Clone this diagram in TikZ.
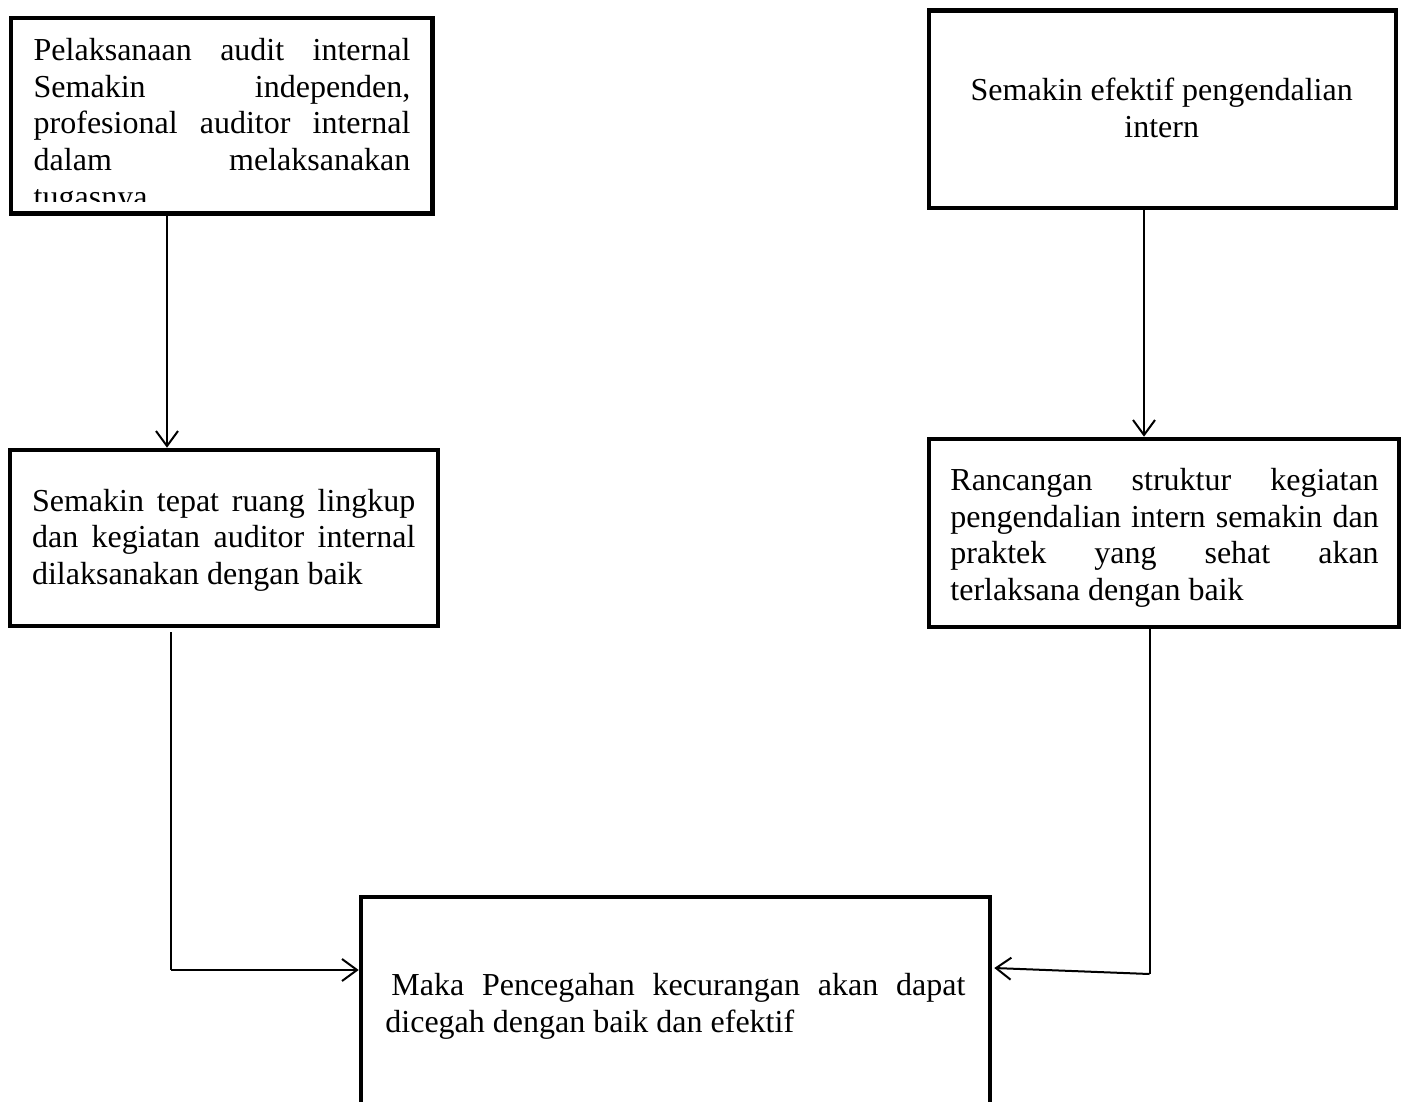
\documentclass[tikz,border=0pt]{standalone}
\usepackage{fontspec}
\setmainfont{Liberation Serif}
\usetikzlibrary{arrows.meta,fit}
\begin{document}
\begin{tikzpicture}[x=0.5pt,y=-0.5pt,
  box/.style={draw=black, line width=2.3pt, inner sep=0pt, rectangle},
  arr/.style={draw=black, line width=1pt, -{Straight Barb[length=7.5pt,width=11pt]}},
  conn/.style={draw=black, line width=1pt},
  txt/.style={inner sep=0pt, anchor=north west, align=left, font=\fontsize{16}{18.35}\selectfont},
  ctxt/.style={inner sep=0pt, anchor=north, align=center, font=\fontsize{16}{18.35}\selectfont},
]
\useasboundingbox (0,0) rectangle (1407,1102);
\fill[white] (0,0) rectangle (1407,1102);
\clip (0,0) rectangle (1407,1102);

% boxes
\node[box, fit={(10.8,18) (432.5,213.5)}] (A) {};
\node[box, fit={(929,10.3) (1396,208)}] (B) {};
\node[box, fit={(10,450) (438,626)}] (C) {};
\node[box, fit={(929,439) (1399,627)}] (D) {};
\node[box, fit={(361,897) (990,1130)}] (E) {};

% texts
\begin{scope}
\clip (14,21) rectangle (429,201.7);
\node[txt] (tA) at (33.3,34.3) {\noindent\strut\makebox[188.35pt][s]{Pelaksanaan audit internal}\\
\makebox[188.35pt][s]{Semakin independen,}\\
\makebox[188.35pt][s]{profesional auditor internal}\\
\makebox[188.35pt][s]{dalam melaksanakan}\\
tugasnya};
\end{scope}

\node[ctxt] (tB) at (1161.7,74.3) {\strut Semakin efektif pengendalian\\intern};

\node[txt] (tC) at (31.7,485) {\noindent\strut\makebox[191.65pt][s]{Semakin tepat ruang lingkup}\\
\makebox[191.65pt][s]{dan kegiatan auditor internal}\\
dilaksanakan dengan baik};

\node[txt] (tD) at (950,464.3) {\noindent\strut\makebox[214.15pt][s]{Rancangan struktur kegiatan}\\
\makebox[214.15pt][s]{pengendalian intern semakin dan}\\
\makebox[214.15pt][s]{praktek yang sehat akan}\\
terlaksana dengan baik};

\node[txt] (tE) at (385,969.3) {\noindent\strut\hspace*{3pt}\makebox[287pt][s]{Maka Pencegahan kecurangan akan dapat}\\
dicegah dengan baik dan efektif};

% connectors
\coordinate (l1) at (167,0);
\coordinate (l2) at (1144,0);
\coordinate (l3) at (171,970);
\coordinate (l4) at (1149.5,974);
\coordinate (l4e) at (0,968);

\draw[arr] (A.south -| l1) -- (C.north -| l1);
\draw[arr] (B.south -| l2) -- (D.north -| l2);
\draw[conn] ([yshift=-2pt]C.south -| l3) -- (l3);
\draw[arr] (l3) -- (E.west |- l3);
\draw[conn] (D.south -| l4) -- (l4);
\draw[arr] (l4) -- ([xshift=1pt]E.east |- l4e);
\end{tikzpicture}
\end{document}
